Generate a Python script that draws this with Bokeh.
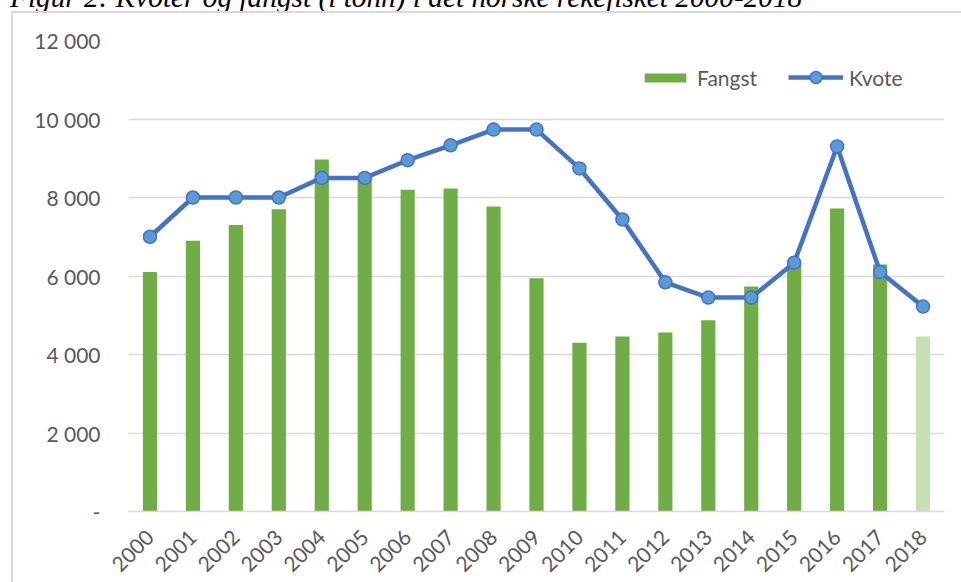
import math
from bokeh.plotting import figure
from bokeh.models import (FactorRange, Legend, LegendItem, Div,
                          ColumnDataSource, FixedTicker)
from bokeh.layouts import column, row
from bokeh.embed import file_html
from bokeh.resources import INLINE

# ---- data ----
years = [str(y) for y in range(2000, 2019)]
fangst = [6100, 6900, 7300, 7700, 8970, 8550, 8200, 8230, 7770, 5940,
          4300, 4460, 4560, 4870, 5730, 6300, 7720, 6290, 4460]
kvote = [7000, 8000, 8000, 8000, 8500, 8500, 8950, 9330, 9730, 9730,
         8740, 7440, 5840, 5450, 5450, 6340, 9300, 6100, 5220]
bar_colors = ["#70AD47"] * 18 + ["#C5E0B4"]
y_ticks = [0, 2000, 4000, 6000, 8000, 10000, 12000]
y_tick_labels = ["-", "2 000", "4 000", "6 000", "8 000", "10 000", "12 000"]
title_text = "Figur 2: Kvoter og fangst (i tonn) i det norske rekefisket 2000-2018"

src = ColumnDataSource(dict(year=years, fangst=fangst, kvote=kvote, color=bar_colors))

p = figure(x_range=FactorRange(factors=years), y_range=(0, 12000),
           width=948, height=569, output_backend="svg", toolbar_location=None,
           min_border_left=115, min_border_right=17, min_border_top=27,
           min_border_bottom=71, outline_line_color=None, margin=0)

# grid / axes
p.xgrid.grid_line_color = None
p.ygrid.grid_line_color = "#D9D9D9"
p.ygrid.grid_line_width = 1.3

p.yaxis.ticker = FixedTicker(ticks=y_ticks)
p.yaxis.major_label_overrides = {t: l for t, l in zip(y_ticks, y_tick_labels)}
p.yaxis.axis_line_color = None
p.yaxis.major_tick_line_color = None
p.yaxis.minor_tick_line_color = None
p.yaxis.major_tick_out = 0
p.yaxis.major_tick_in = 0
p.yaxis.major_label_standoff = 28
p.yaxis.major_label_text_font = "Lato"
p.yaxis.major_label_text_font_size = "21px"
p.yaxis.major_label_text_color = "#595959"

p.xaxis.axis_line_color = "#D9D9D9"
p.xaxis.axis_line_width = 1.3
p.xaxis.major_tick_line_color = None
p.xaxis.minor_tick_line_color = None
p.xaxis.major_tick_out = 0
p.xaxis.major_tick_in = 0
p.xaxis.major_label_orientation = math.pi / 4
p.xaxis.major_label_standoff = 22
p.xaxis.major_label_text_font = "Lato"
p.xaxis.major_label_text_font_size = "21px"
p.xaxis.major_label_text_color = "#595959"

# glyphs
bars = p.vbar(x="year", top="fangst", width=0.33, fill_color="color",
              line_color=None, source=src)
line = p.line(x="year", y="kvote", line_color="#4472C4", line_width=4.5,
              source=src)
marks = p.scatter(x="year", y="kvote", size=13, fill_color="#5B9BD5",
                  line_color="#4472C4", line_width=1.5, source=src)

common = dict(orientation="horizontal", border_line_color=None,
              background_fill_alpha=0, label_standoff=6, spacing=0,
              padding=0, margin=0, label_text_font="Lato",
              label_text_font_size="21px", label_text_color="#595959")
leg1 = Legend(items=[LegendItem(label="Fangst", renderers=[bars], index=0)],
              location=(511, 421), glyph_width=52, glyph_height=11, **common)
leg2 = Legend(items=[LegendItem(label="Kvote", renderers=[line, marks], index=0)],
              location=(660, 419), glyph_width=55, glyph_height=30, **common)
p.add_layout(leg1)
p.add_layout(leg2)

# caption strip (top cut off as in the source) and the chart-area border
top_html = (
    '<div style="position:relative;width:961px;height:13px;overflow:hidden;">'
    '<div style="position:absolute;left:10px;top:-17px;white-space:nowrap;'
    "font-family:'Liberation Serif';font-style:italic;font-size:29.3px;"
    'line-height:29px;color:#000;">' + title_text + '</div>'
    '<div style="position:absolute;left:11px;top:11px;width:960px;height:2px;'
    'background:#D9D9D9;"></div></div>'
)
left_html = (
    '<div style="position:relative;width:13px;height:569px;">'
    '<div style="position:absolute;left:11px;top:0;width:2px;height:569px;'
    'background:#D9D9D9;"></div></div>'
)
top_div = Div(text=top_html, width=961, height=13, margin=0)
left_div = Div(text=left_html, width=13, height=569, margin=0)

layout = column(top_div, row(left_div, p, spacing=0, margin=0), spacing=0, margin=0)

open("out.html", "w").write(file_html(layout, INLINE))
